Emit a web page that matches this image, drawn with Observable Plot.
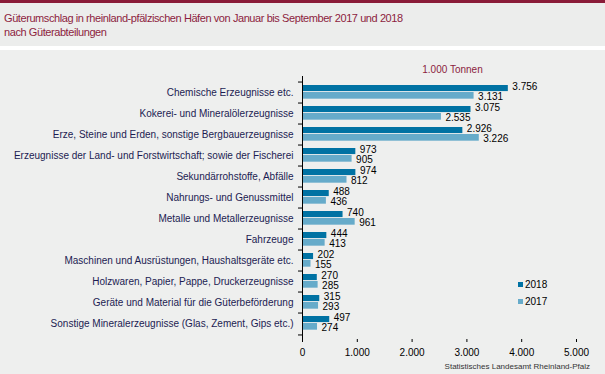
<!DOCTYPE html>
<html>
<head>
<meta charset="utf-8">
<script src="https://cdn.jsdelivr.net/npm/d3@7"></script>
<script src="https://cdn.jsdelivr.net/npm/@observablehq/plot@0.6"></script>
<style>
  html, body { margin: 0; padding: 0; background: #ffffff; }
  body { width: 605px; height: 374px; overflow: hidden; font-family: "Liberation Sans", Arial, sans-serif; }
  #topbar { height: 3px; background: #8a1c38; }
  #titlebox { height: 43px; background: #ecedec; box-sizing: border-box; padding: 8px 0 0 4px;
    color: #8c1d40; font-size: 11px; line-height: 14px; letter-spacing: -0.42px; }
  #gap { height: 4px; background: #ffffff; }
  #chart { position: relative; height: 324px; background: #eeefee; }
  #chart svg { position: absolute; left: 0; top: 0; }
  .legend { position: absolute; left: 518px; font-size: 10px; color: #000; }
  .legend span.sw { display: inline-block; width: 5px; height: 5px; margin-right: 2px; vertical-align: 1px; }
  #caption { position: absolute; right: 15px; top: 312px; font-size: 8px; color: #333; }
</style>
</head>
<body>
<div id="topbar"></div>
<div id="titlebox">Güterumschlag in rheinland-pfälzischen Häfen von Januar bis September 2017 und 2018<br>nach Güterabteilungen</div>
<div id="gap"></div>
<div id="chart"><div id="caption">Statistisches Landesamt Rheinland-Pfalz</div></div>
<script>
const categories = [
  "Chemische Erzeugnisse etc.",
  "Kokerei- und Mineralölerzeugnisse",
  "Erze, Steine und Erden, sonstige Bergbauerzeugnisse",
  "Erzeugnisse der Land- und Forstwirtschaft; sowie der Fischerei",
  "Sekundärrohstoffe, Abfälle",
  "Nahrungs- und Genussmittel",
  "Metalle und Metallerzeugnisse",
  "Fahrzeuge",
  "Maschinen und Ausrüstungen, Haushaltsgeräte etc.",
  "Holzwaren, Papier, Pappe, Druckerzeugnisse",
  "Geräte und Material für die Güterbeförderung",
  "Sonstige Mineralerzeugnisse (Glas, Zement, Gips etc.)"
];
const values2018 = [3756, 3075, 2926, 973, 974, 488, 740, 444, 202, 270, 315, 497];
const values2017 = [3131, 2535, 3226, 905, 812, 436, 961, 413, 155, 285, 293, 274];
const years = ["2018", "2017"];
const colors = ["#0072a3", "#66abca"];
const xTicks = [0, 1000, 2000, 3000, 4000, 5000];
const unitLabel = "1.000 Tonnen";

const locale = d3.formatLocale({decimal: ",", thousands: ".", grouping: [3], currency: ["", " €"]});
const fmt = locale.format(",d");

const d18 = categories.map((c, i) => ({category: c, year: years[0], value: values2018[i]}));
const d17 = categories.map((c, i) => ({category: c, year: years[1], value: values2017[i]}));

const W = 605, H = 324, mT = 26, mB = 35, mL = 302, mR = 29;
const step = (H - mT - mB) / categories.length;

const plot = Plot.plot({
  width: W, height: H,
  marginTop: mT, marginBottom: mB, marginLeft: mL, marginRight: mR,
  style: {background: "transparent", fontFamily: "'Liberation Sans', Arial, sans-serif", fontSize: "10px", color: "#000"},
  x: {domain: [0, 5000], label: null},
  y: {domain: categories, padding: 0, label: null},
  marks: [
    Plot.barX(d18, {x: "value", y: "category", fill: colors[0], insetTop: 3, insetBottom: step - 10}),
    Plot.barX(d17, {x: "value", y: "category", fill: colors[1], insetTop: 10, insetBottom: step - 17.6}),
    Plot.text(d18, {x: "value", y: "category", text: d => fmt(d.value), textAnchor: "start", dx: 4, dy: 5 - step / 2, fill: "#000", fontSize: 10}),
    Plot.text(d17, {x: "value", y: "category", text: d => fmt(d.value), textAnchor: "start", dx: 4, dy: 14.7 - step / 2, fill: "#000", fontSize: 10}),
    Plot.ruleX([0], {stroke: "#000"}),
    Plot.axisX(xTicks, {tickFormat: fmt, tickSize: 3, line: true, stroke: "#000", fill: "#000", fontSize: 10, label: null}),
    Plot.axisY({tickSize: 0, tickPadding: 9, fill: "#1c1c52", fontSize: 10, label: null}),
    Plot.axisY({tickSize: 4, text: null, dy: -step / 2, stroke: "#000", label: null}),
    Plot.axisY({ticks: [categories[categories.length - 1]], tickSize: 4, text: null, dy: step / 2, stroke: "#000", label: null}),
    Plot.text([unitLabel], {frameAnchor: "top", dy: -11, dx: 13, fill: "#8c1d40", fontSize: 10})
  ]
});
const chart = document.getElementById("chart");
chart.insertBefore(plot, chart.firstChild);

years.forEach((y, i) => {
  const el = document.createElement("div");
  el.className = "legend";
  el.style.top = (229 + i * 17) + "px";
  el.innerHTML = `<span class="sw" style="background:${colors[i]}"></span>${y}`;
  chart.appendChild(el);
});
</script>
</body>
</html>
